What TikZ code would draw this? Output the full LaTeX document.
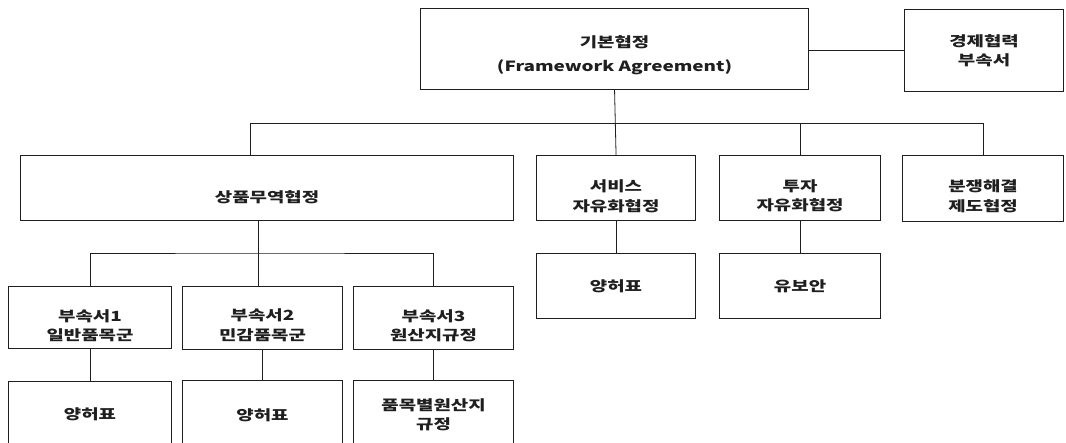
\documentclass[tikz,border=0pt]{standalone}
\usepackage{fontspec}
\newfontfamily\kr[FakeStretch=1.35]{Noto Sans CJK KR}
\begin{document}
\begin{tikzpicture}[x=1pt,y=-1pt]
\tikzset{
  box/.style={draw=black!88, line width=1.1pt, rectangle, inner sep=0pt, anchor=north west},
  txt/.style={font=\kr\bfseries\fontsize{14}{19.5}\selectfont, align=center, text=black!88, inner sep=0pt},
  link/.style={draw=black!88, line width=0.8pt}
}
\clip (0,0) rectangle (1066,443);
\fill[white] (0,0) rectangle (1066,443);
% boxes
\node[box, minimum width=388pt, minimum height=81pt] (top) at (420,8) {};
\node[box, minimum width=159pt, minimum height=82pt] (econ) at (904,9) {};
\node[box, minimum width=493pt, minimum height=65pt] (goods) at (20,155) {};
\node[box, minimum width=159pt, minimum height=65pt] (svc) at (536,155) {};
\node[box, minimum width=161pt, minimum height=65pt] (inv) at (719,155) {};
\node[box, minimum width=161pt, minimum height=66pt] (disp) at (902,155) {};
\node[box, minimum width=159pt, minimum height=65pt] (svcs) at (536,253) {};
\node[box, minimum width=161pt, minimum height=65pt] (resv) at (719,253) {};
\node[box, minimum width=163pt, minimum height=62pt] (ann1) at (8,286) {};
\node[box, minimum width=160pt, minimum height=63pt] (ann2) at (182,286) {};
\node[box, minimum width=160pt, minimum height=63pt] (ann3) at (353,286) {};
\node[box, minimum width=163pt, minimum height=80pt] (b1) at (8,381) {};
\node[box, minimum width=160pt, minimum height=80pt] (b2) at (182,380) {};
\node[box, minimum width=160pt, minimum height=80pt] (b3) at (353,380) {};
% texts
\node[txt, font=\kr\bfseries\fontsize{14}{24}\selectfont] (topt) at ([yshift=-6.5pt]top.center) {기본협정\\(Framework Agreement)};
\node[txt] (econt) at (econ.center) {경제협력\\부속서};
\node[txt] (goodst) at ([yshift=-9pt]goods.center) {상품무역협정};
\node[txt] (svct) at ([yshift=-8pt]svc.center) {서비스\\자유화협정};
\node[txt] (invt) at ([yshift=-7.5pt]inv.center) {투자\\자유화협정};
\node[txt] (dispt) at ([yshift=-7.5pt]disp.center) {분쟁해결\\제도협정};
\node[txt] (svcst) at (svcs.center) {양허표};
\node[txt] (resvt) at (resv.center) {유보안};
\node[txt] (ann1t) at ([yshift=-8pt]ann1.center) {부속서1\\일반품목군};
\node[txt] (ann2t) at ([yshift=-7pt]ann2.center) {부속서2\\민감품목군};
\node[txt] (ann3t) at ([yshift=-7.5pt]ann3.center) {부속서3\\원산지규정};
\node[txt] (b1t) at (b1.center |- 0,414) {양허표};
\node[txt] (b2t) at (b2.center |- 0,415) {양허표};
\node[txt] (b3t) at (b3.center |- 0,415) {품목별원산지\\규정};
% connectors
\coordinate (bus) at (614,123);
\coordinate (gdrop) at (250,123);
\coordinate (sub) at (258,253);
\draw[link] (top.east |- econ.west) -- (econ.west);
\draw[link] (top.south) -- (svc.north);
\draw[link] (goods.north -| gdrop) -- (gdrop) -- (bus -| disp.north) -- (disp.north);
\draw[link] (bus -| inv.north) -- (inv.north);
\draw[link] (svc.south) -- (svcs.north);
\draw[link] (inv.south) -- (resv.north);
\draw[link] (sub |- goods.south) -- (sub |- ann2.north);
\draw[link] (ann1.north) |- (sub) -| (ann3.north);
\draw[link] (ann1.south) -- (b1.north);
\draw[link] (ann2.south) -- (b2.north);
\draw[link] (ann3.south) -- (b3.north);
\end{tikzpicture}
\end{document}
